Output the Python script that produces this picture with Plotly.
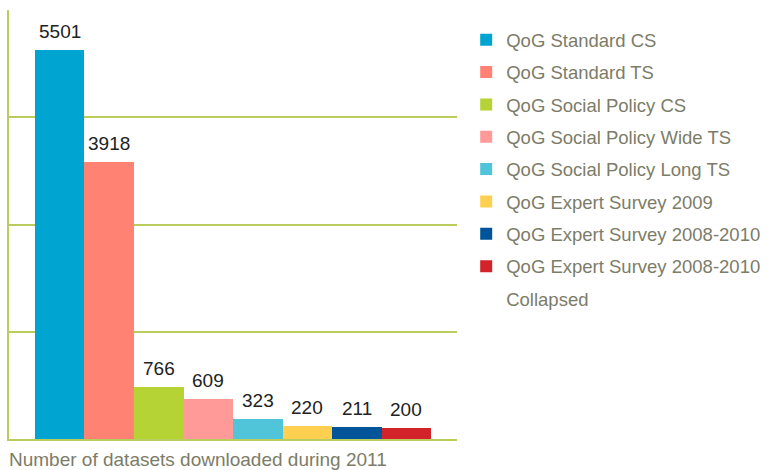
import plotly.graph_objects as go

names = ["QoG Standard CS", "QoG Standard TS", "QoG Social Policy CS",
         "QoG Social Policy Wide TS", "QoG Social Policy Long TS",
         "QoG Expert Survey 2009", "QoG Expert Survey 2008-2010",
         "QoG Expert Survey 2008-2010"]
values = [5501, 3918, 766, 609, 323, 220, 211, 200]
colors = ["#00a4d1", "#ff8273", "#b5d334", "#ff9a98", "#50c5da",
          "#ffcf4f", "#00559a", "#d2232a"]
extra_legend_line = "Collapsed"
title_text = "Number of datasets downloaded during 2011"

GRID = "#b8cd5e"
TEXT = "#7c7c68"
FONT = "Liberation Sans, Arial, sans-serif"

fig = go.Figure()
for i, (n, v, c) in enumerate(zip(names, values, colors)):
    fig.add_trace(go.Bar(
        x=[i], y=[v], name=n, marker=dict(color=c, line=dict(width=0)),
        width=1, legendgroup=f"g{i}",
        text=[str(v)], textposition="none", hoverinfo="skip",
    ))
    fig.add_annotation(x=i, y=v, text=str(v), showarrow=False,
                       yanchor="bottom", yshift=6,
                       font=dict(size=19, color="#222222", family=FONT))

# continuation line of last legend entry
fig.add_trace(go.Scatter(x=[None], y=[None], mode="markers", name=extra_legend_line,
                         marker=dict(color="rgba(0,0,0,0)", size=1),
                         legendgroup="g8", hoverinfo="skip"))

fig.add_annotation(text=title_text, xref="paper", yref="paper", x=0, y=0,
                   xanchor="left", yanchor="top", yshift=-8, xshift=-2,
                   showarrow=False, font=dict(size=19, color=TEXT, family=FONT))

fig.update_layout(
    width=777, height=470,
    margin=dict(l=9, r=320, t=10, b=31),
    paper_bgcolor="white", plot_bgcolor="white",
    barmode="overlay", bargap=0,
    showlegend=True,
    legend=dict(xref="container", yref="container", x=0.6, y=0.955,
                xanchor="left", yanchor="top",
                font=dict(size=18.5, color=TEXT, family=FONT),
                tracegroupgap=5.3, itemsizing="constant", maxheight=1,
                bgcolor="rgba(0,0,0,0)"),
    xaxis=dict(range=[-1.025, 8.025], showticklabels=False, showgrid=False,
               zeroline=False, showline=True, linecolor=GRID, linewidth=1.5,
               ticks="", fixedrange=True),
    yaxis=dict(range=[42, 6055], tick0=42, dtick=1503.25, showticklabels=False,
               showgrid=True, gridcolor=GRID, gridwidth=1.5, zeroline=False,
               showline=True, linecolor=GRID, linewidth=1.5, ticks="",
               fixedrange=True),
    font=dict(family=FONT),
)

fig.write_html("out.html", config={"displayModeBar": False},
               post_script="document.body.style.margin='0';")
